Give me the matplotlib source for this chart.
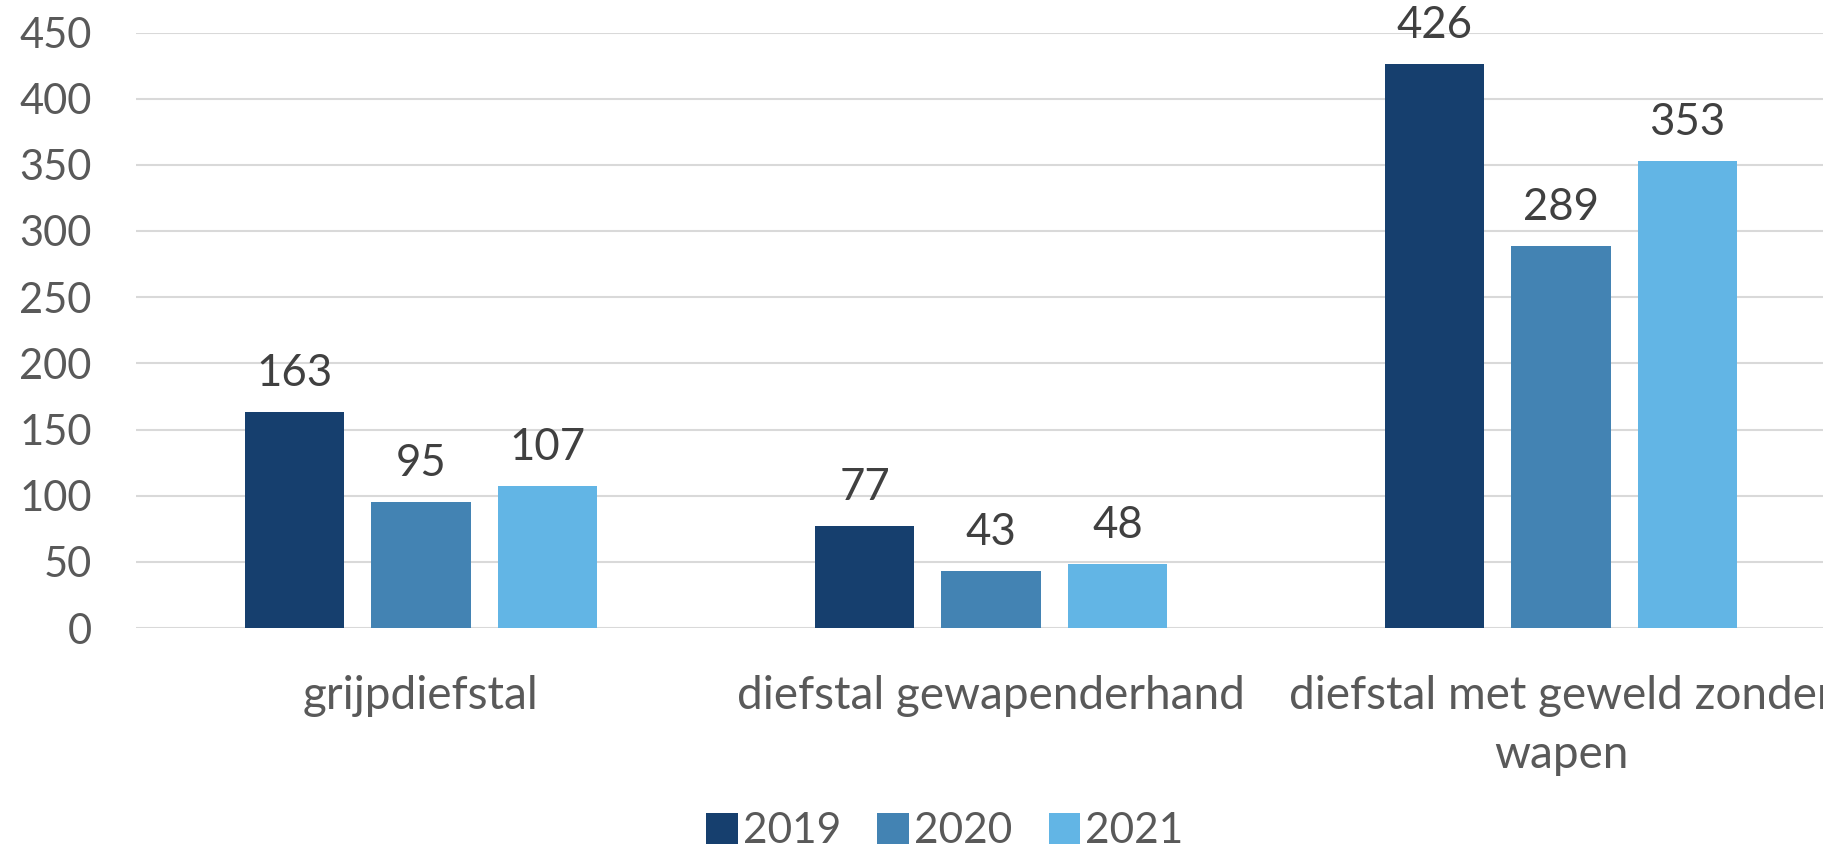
import matplotlib
matplotlib.use("Agg")
import matplotlib.pyplot as plt
import numpy as np

categories = ["grijpdiefstal", "diefstal gewapenderhand", "diefstal met geweld zonder\nwapen"]
years = ["2019", "2020", "2021"]
v2019 = [163, 77, 426]
v2020 = [95, 43, 289]
v2021 = [107, 48, 353]
yticks = [0, 50, 100, 150, 200, 250, 300, 350, 400, 450]

colors = ["#163F6E", "#4383B3", "#62B5E5"]

plt.rcParams['font.family'] = ['Lato', 'DejaVu Sans']

W, H = 1824, 848
fig = plt.figure(figsize=(W / 100, H / 100), dpi=100)
left, right, bottom, top = 136, 1846, 628, 32.5
ax = fig.add_axes([left / W, 1 - bottom / H, (right - left) / W, (bottom - top) / H])

x = np.arange(len(categories))
bw = 99.5 / 570
step = 126.4 / 570
series = [v2019, v2020, v2021]
for i, (vals, yr, c) in enumerate(zip(series, years, colors)):
    bars = ax.bar(x + (i - 1) * step, vals, width=bw, color=c, label=yr, zorder=3)
    for b, v in zip(bars, vals):
        ax.annotate(str(v), (b.get_x() + b.get_width() / 2, v), xytext=(0, 13),
                    textcoords='offset points', ha='center', va='bottom',
                    fontsize=31.5, color='#404040')

ax.set_xlim(-0.5, 2.5)
ax.set_ylim(0, 450)
ax.set_yticks(yticks)
ax.set_yticklabels([str(t) for t in yticks], fontsize=30, color='#595959')
ax.set_xticks(x)
ax.set_xticklabels(categories, fontsize=33, color='#595959', linespacing=1.5)
ax.tick_params(axis='y', length=0, pad=32)
ax.tick_params(axis='x', length=0, pad=34)
ax.grid(axis='y', color='#D9D9D9', linewidth=1.5, zorder=0)
for s in ax.spines.values():
    s.set_visible(False)

handles, labels = ax.get_legend_handles_labels()
fig.legend(handles, labels, loc='center', bbox_to_anchor=(945 / W, 1 - 831 / H), ncol=3,
           frameon=False, fontsize=30.5, handlelength=0.75, handleheight=0.75,
           handletextpad=0.12, columnspacing=0.85, labelcolor='#595959')

fig.savefig("out.png", dpi=100)
